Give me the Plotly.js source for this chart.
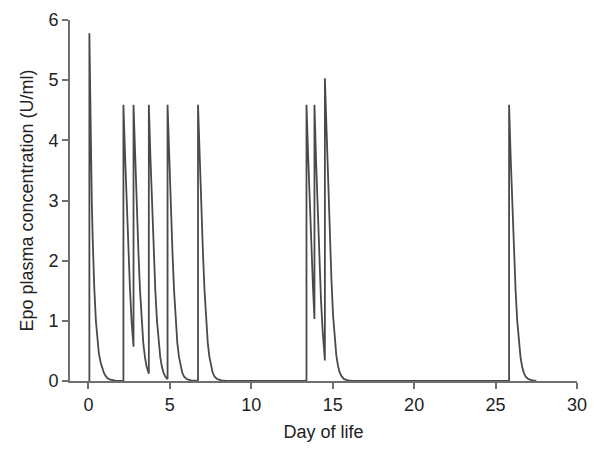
<!DOCTYPE html>
<html>
<head>
<meta charset="utf-8">
<script src="https://cdn.plot.ly/plotly-3.0.1.min.js"></script>
<style>html,body{margin:0;padding:0;background:#fff;}#chart{width:600px;height:453px;}</style>
</head>
<body>
<div id="chart"></div>
<script>
// Day of life (x) and Epo plasma concentration in U/ml (y)
const day = [
  0.00, 0.06, 0.06, 0.11, 0.16, 0.21, 0.26, 0.31, 0.36, 0.46, 0.56, 0.64, 0.76, 0.86, 0.96, 1.06, 1.16, 1.30, 1.50, 1.70,
  2.15, 2.15, 2.25, 2.35, 2.45, 2.55, 2.65, 2.77,
  2.77, 2.87, 2.97, 3.07, 3.17, 3.27, 3.37, 3.47, 3.57, 3.71,
  3.71, 3.81, 3.91, 4.01, 4.11, 4.21, 4.31, 4.41, 4.51, 4.61, 4.73, 4.86,
  4.86, 4.96, 5.06, 5.16, 5.26, 5.36, 5.46, 5.56, 5.66, 5.76, 5.88, 6.05, 6.30, 6.55,
  6.73, 6.73, 6.83, 6.93, 7.03, 7.13, 7.23, 7.33, 7.43, 7.53, 7.63, 7.75, 7.92, 8.17, 8.45,
  13.39, 13.39, 13.49, 13.59, 13.69, 13.79, 13.88,
  13.88, 13.98, 14.08, 14.18, 14.28, 14.38, 14.46, 14.52,
  14.52, 14.62, 14.72, 14.82, 14.92, 15.02, 15.12, 15.22, 15.32, 15.42, 15.54, 15.70, 15.95, 16.20,
  25.83, 25.83, 25.93, 26.03, 26.13, 26.23, 26.33, 26.43, 26.53, 26.63, 26.73, 26.85, 27.02, 27.27, 27.50
];
const epo = [
  0.00, 0.00, 5.78, 4.60, 3.70, 2.95, 2.40, 1.92, 1.55, 1.00, 0.66, 0.46, 0.30, 0.20, 0.13, 0.085, 0.05, 0.025, 0.008, 0.00,
  0.00, 4.59, 3.75, 2.95, 2.20, 1.55, 1.00, 0.57,
  4.59, 3.70, 2.90, 2.15, 1.50, 1.00, 0.63, 0.40, 0.24, 0.12,
  4.59, 3.70, 2.90, 2.15, 1.50, 1.00, 0.63, 0.40, 0.24, 0.14, 0.07, 0.03,
  4.59, 3.70, 2.90, 2.15, 1.50, 1.00, 0.63, 0.40, 0.24, 0.14, 0.07, 0.03, 0.01, 0.00,
  0.00, 4.59, 3.70, 2.90, 2.15, 1.50, 1.00, 0.63, 0.40, 0.24, 0.14, 0.07, 0.03, 0.01, 0.00,
  0.00, 4.59, 3.75, 2.95, 2.20, 1.55, 1.03,
  4.59, 3.65, 2.80, 2.00, 1.35, 0.85, 0.55, 0.34,
  5.03, 4.10, 3.20, 2.40, 1.70, 1.10, 0.70, 0.43, 0.26, 0.15, 0.08, 0.03, 0.01, 0.00,
  0.00, 4.59, 3.70, 2.90, 2.15, 1.50, 1.00, 0.63, 0.40, 0.24, 0.14, 0.07, 0.03, 0.01, 0.00
];
const xTicks = [0, 5, 10, 15, 20, 25, 30];
const yTicks = [0, 1, 2, 3, 4, 5, 6];

const axisColor = '#6f6f6f';
const font = {family: '"Liberation Sans", Arial, Helvetica, sans-serif', size: 18, color: '#222'};

Plotly.newPlot('chart', [{
  x: day, y: epo, type: 'scatter', mode: 'lines',
  line: {color: '#4a4a4a', width: 1.8},
  hoverinfo: 'skip'
}], {
  width: 600, height: 453,
  margin: {l: 70, r: 23, t: 20, b: 72},
  paper_bgcolor: '#fff', plot_bgcolor: '#fff',
  font: font,
  showlegend: false,
  xaxis: {
    range: [-1.13, 30], tickvals: xTicks, ticktext: xTicks.map(String),
    showgrid: false, zeroline: false, showline: true, linecolor: axisColor, linewidth: 2,
    ticks: 'outside', ticklen: 6, tickwidth: 2, tickcolor: axisColor,
    tickfont: font,
    title: {text: 'Day of life', font: font, standoff: 12}
  },
  yaxis: {
    range: [0, 6], tickvals: yTicks, ticktext: yTicks.map(String),
    showgrid: false, zeroline: false, showline: true, linecolor: axisColor, linewidth: 2,
    ticks: 'outside', ticklen: 6, tickwidth: 2, tickcolor: axisColor,
    tickfont: font,
    title: {text: 'Epo plasma concentration (U/ml)', font: font, standoff: 10}
  }
}, {displayModeBar: false, staticPlot: true});
</script>
</body>
</html>
